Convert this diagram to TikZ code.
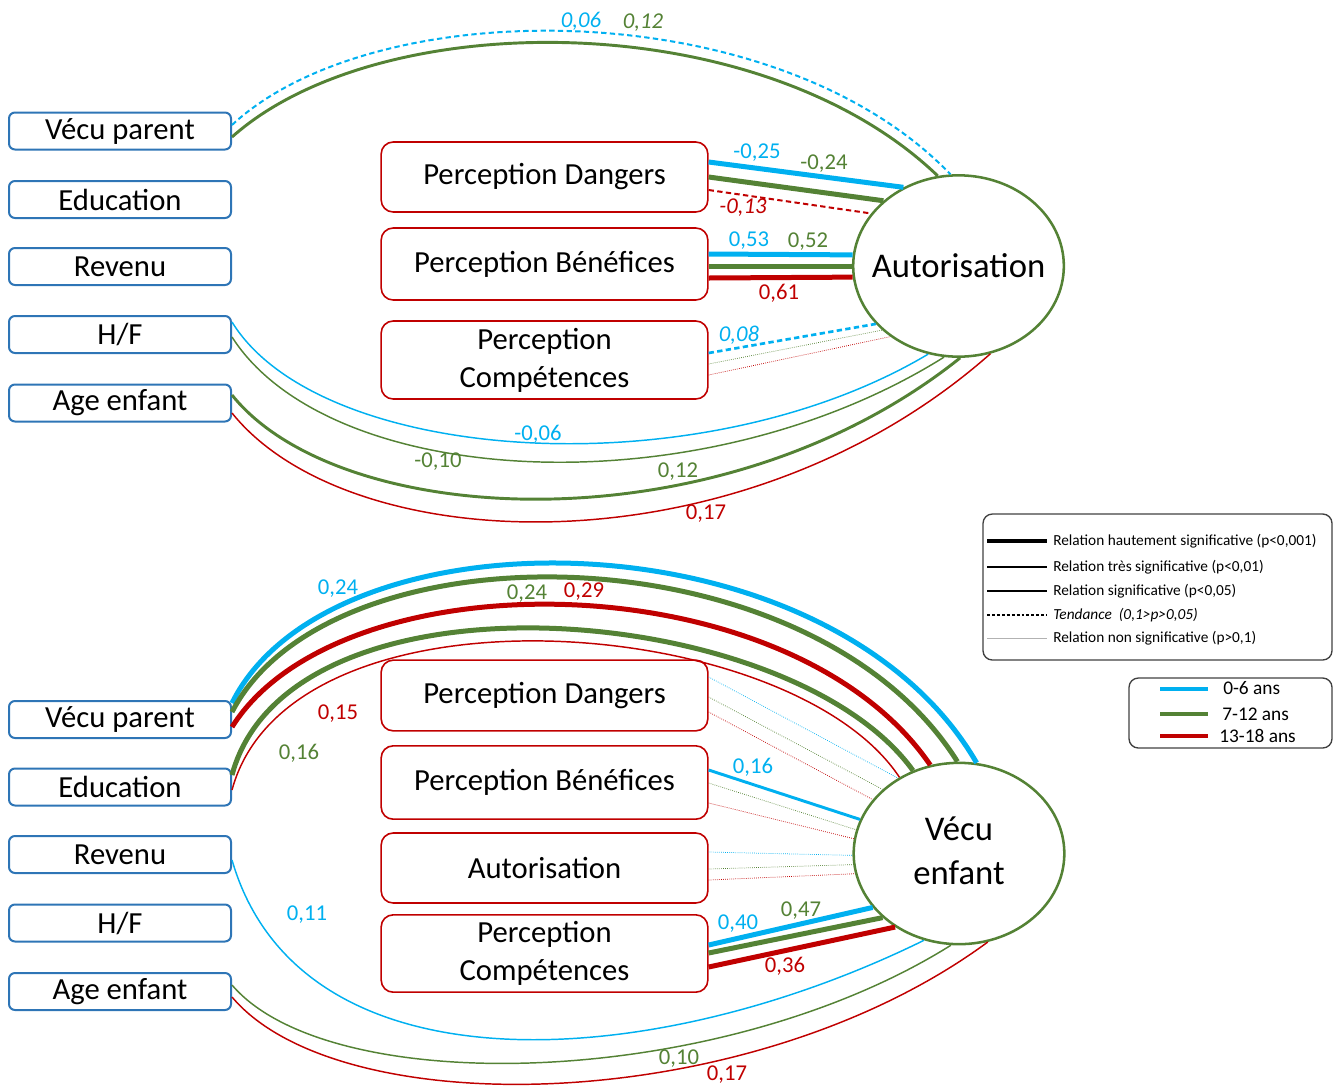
\documentclass[tikz,border=0pt]{standalone}
\usepackage{fontspec}
\setmainfont{Carlito}
\usetikzlibrary{shapes.geometric}
\definecolor{cb}{HTML}{00B0F0}
\definecolor{cg}{HTML}{548235}
\definecolor{cr}{HTML}{C00000}
\definecolor{bb}{HTML}{2E75B6}
\begin{document}
\begin{tikzpicture}[x=0.75pt,y=-0.75pt,
 lbox/.style={draw=bb, line width=1.5pt, rounded corners=4.5pt, minimum width=166.5pt, minimum height=27.75pt, inner sep=0pt, font=\fontsize{23}{27}\selectfont},
 pbox/.style={draw=cr, line width=1.2pt, rounded corners=9pt, minimum width=245pt, minimum height=53pt, inner sep=0pt, align=center, font=\fontsize{23}{28.5}\selectfont},
 lat/.style={draw=cg, line width=1.9pt, ellipse, minimum width=158pt, minimum height=136pt, inner sep=0pt, font=\fontsize{26}{32}\selectfont},
 legbox/.style={draw=black!75, line width=1pt, rounded corners=7pt, inner sep=0pt},
 legtxt/.style={anchor=west, inner sep=0pt, font=\fontsize{11.5}{13}\selectfont},
 agetxt/.style={anchor=west, inner sep=0pt, font=\fontsize{14.5}{16}\selectfont},
 hs/.style={line width=3.75pt},
 ts/.style={line width=2.2pt},
 sg/.style={line width=1.1pt},
 td/.style={line width=1.5pt, dash pattern=on 4pt off 2.5pt},
 ns/.style={line width=0.55pt, densely dotted},
 num/.style={inner sep=0pt, font=\fontsize{17}{20}\selectfont},
 numi/.style={inner sep=0pt, font=\fontsize{17}{20}\selectfont\itshape},
]
\useasboundingbox (0,0) rectangle (1342,1086);

% ---------- top section ----------
\node[lbox] (vp1) at (120,131) {Vécu parent};
\node[lbox] (ed1) at (120,199.5) {Education};
\node[lbox] (rv1) at (120,266.5) {Revenu};
\node[lbox] (hf1) at (120,334.5) {H/F};
\node[lbox] (ag1) at (120,403) {Age enfant};
\node[pbox, minimum height=52.5pt] (pd1) at (544.5,177) {Perception Dangers};
\node[pbox, minimum height=54pt] (pb1) at (544.5,264) {Perception Bénéfices};
\node[pbox, minimum height=58.5pt] (pc1) at (544.5,360) {Perception\\Compétences};
\node[lat] (aut) at (958.5,266) {\makebox[0pt]{Autorisation}};

\draw[cb, td] (vp1.east |- 0,125) .. controls (375,-8) and (775,-8) .. (aut.95);
\draw[cg, ts] (vp1.east |- 0,137) .. controls (380,5) and (760,5) .. (aut.103);

\draw[cb, hs] (pd1.east |- 0,162) -- (aut.125);
\draw[cg, hs] (pd1.east |- 0,177) -- (aut.139);
\draw[cr, td] (pd1.east |- 0,190) -- (aut.149);

\draw[cb, hs] (pb1.east |- 0,254) -- (aut.174.5);
\draw[cg, hs] (pb1.east |- 0,266) -- (aut.180);
\draw[cr, hs] (pb1.east |- 0,278) -- (aut.186.6);

\draw[cb, td, line width=2pt] (pc1.east |- 0,353) -- (aut.215);
\draw[cg, ns] (pc1.east |- 0,364) -- (aut.220);
\draw[cr, ns] (pc1.east |- 0,375) -- (aut.226.6);

\draw[cb, sg] (hf1.east |- 0,322) .. controls (320,465) and (700,490) .. (aut.251.6);
\draw[cg, sg] (hf1.east |- 0,337) .. controls (330,490) and (700,510) .. (aut.261.7);
\draw[cg, ts] (ag1.east |- 0,395) .. controls (340,530) and (720,550) .. (aut.271);
\draw[cr, sg] (ag1.east |- 0,413) .. controls (350,560) and (740,575) .. (aut.290.4);

\node[numi, cb] (l1) at (581,21) {0,06};
\node[numi, cg] (l2) at (643,23) {0,12};
\node[num, cb] (l3) at (757,153) {-0,25};
\node[num, cg] (l4) at (824,164) {-0,24};
\node[numi, cr] (l5) at (743,208) {-0,13};
\node[num, cb] (l6) at (749,241) {0,53};
\node[num, cg] (l7) at (808,242) {0,52};
\node[num, cr] (l8) at (779,293) {0,61};
\node[numi, cb] (l9) at (739,335) {0,08};
\node[num, cb] (l10) at (538,434) {-0,06};
\node[num, cg] (l11) at (438,462) {-0,10};
\node[num, cg] (l12) at (678,472) {0,12};
\node[num, cr] (l13) at (706,514) {0,17};

% ---------- bottom section ----------
\node[lbox] (vp2) at (120,719.5) {Vécu parent};
\node[lbox] (ed2) at (120,787) {Education};
\node[lbox] (rv2) at (120,854.5) {Revenu};
\node[lbox] (hf2) at (120,923) {H/F};
\node[lbox] (ag2) at (120,991.5) {Age enfant};
\node[pbox, minimum height=53pt] (pd2) at (544.5,695.5) {Perception Dangers};
\node[pbox, minimum height=55pt] (pb2) at (544.5,782.5) {Perception Bénéfices};
\node[pbox, minimum height=52.5pt] (pa2) at (544.5,868) {Autorisation};
\node[pbox, minimum height=58pt] (pc2) at (544.5,953.5) {Perception\\Compétences};
\node[lat] (vec) at (959,853.5) {\makebox[0pt]{\raisebox{-2.5pt}{\begin{tabular}{@{}c@{}}Vécu\\[1pt]enfant\end{tabular}}}};

\draw[cb, hs] (vp2.east |- 0,703) .. controls (330,505) and (830,510) .. (vec.79);
\draw[cg, hs] (vp2.east |- 0,712) .. controls (330,522) and (810,527) .. (vec.91);
\draw[cr, hs] (vp2.east |- 0,727) .. controls (340,555) and (790,560) .. (vec.108);
\draw[cg, hs] (ed2.east |- 0,775) .. controls (290,560) and (790,600) .. (vec.119.4);
\draw[cr, sg] (ed2.east |- 0,790) .. controls (290,575) and (790,612) .. (vec.128);

\draw[cb, ns] (pd2.east |- 0,677) -- (vec.129);
\draw[cg, ns] (pd2.east |- 0,697) -- (vec.140.3);
\draw[cr, ns] (pd2.east |- 0,712) -- (vec.148);

\draw[cb, ts] (pb2.east |- 0,770) -- (vec.161.6);
\draw[cg, ns] (pb2.east |- 0,783) -- (vec.167.3);
\draw[cr, ns] (pb2.east |- 0,803) -- (vec.172.7);

\draw[cb, ns] (pa2.east |- 0,852) -- (vec.181);
\draw[cg, ns] (pa2.east |- 0,869) -- (vec.186.2);
\draw[cr, ns] (pa2.east |- 0,880) -- (vec.191.7);

\draw[cb, hs] (pc2.east |- 0,945) -- (vec.212.5);
\draw[cg, hs] (pc2.east |- 0,953) -- (vec.220.6);
\draw[cr, hs] (pc2.east |- 0,967) -- (vec.229.9);

\draw[cb, sg] (rv2.east |- 0,860) .. controls (300,1095) and (650,1075) .. (vec.248.4);
\draw[cg, sg] (ag2.east |- 0,985) .. controls (330,1100) and (720,1090) .. (vec.265.5);
\draw[cr, sg] (ag2.east |- 0,997) .. controls (340,1125) and (750,1117) .. (vec.288.5);

\node[num, cb] (m1) at (338,589) {0,24};
\node[num, cg] (m2) at (527,594) {0,24};
\node[num, cr] (m3) at (584,592) {0,29};
\node[num, cr] (m4) at (338,714) {0,15};
\node[num, cg] (m5) at (299,753) {0,16};
\node[num, cb] (m6) at (753,767) {0,16};
\node[num, cb] (m7) at (307,915) {0,11};
\node[num, cb] (m8) at (738,924) {0,40};
\node[num, cg] (m9) at (801,911) {0,47};
\node[num, cr] (m10) at (785,966) {0,36};
\node[num, cg] (m11) at (679,1059) {0,10};
\node[num, cr] (m12) at (727,1075) {0,17};

% ---------- legends ----------
\node[legbox, minimum width=261.75pt, minimum height=109.5pt] (leg1) at (1157.5,587) {};
\draw[line width=2.4pt] (987,541) -- (1047,541);
\draw[line width=1.3pt] (987,567) -- (1047,567);
\draw[line width=0.8pt] (987,591) -- (1047,591);
\draw[line width=0.8pt, dash pattern=on 2.2pt off 1.5pt] (987,615) -- (1047,615);
\draw[line width=0.5pt, black!30] (987,638) -- (1047,638);
\node[legtxt] (t1) at (1053,541) {Relation hautement significative (p<0,001)};
\node[legtxt] (t2) at (1053,567) {Relation très significative (p<0,01)};
\node[legtxt] (t3) at (1053,591) {Relation significative (p<0,05)};
\node[legtxt, font=\fontsize{11.5}{13}\selectfont\itshape] (t4) at (1053,615) {Tendance\ \ (0,1>p>0,05)};
\node[legtxt] (t5) at (1053,638) {Relation non significative (p>0,1)};

\node[legbox, minimum width=152.25pt, minimum height=52.5pt] (leg2) at (1230.5,713) {};
\draw[cb, line width=3pt] (1160,689) -- (1208,689);
\draw[cg, line width=3pt] (1160,714) -- (1208,714);
\draw[cr, line width=3pt] (1160,736) -- (1208,736);
\node[agetxt] (a1) at (1223,688) {0-6 ans};
\node[agetxt] (a2) at (1222,714) {7-12 ans};
\node[agetxt] (a3) at (1219,736) {13-18 ans};
\end{tikzpicture}
\end{document}
